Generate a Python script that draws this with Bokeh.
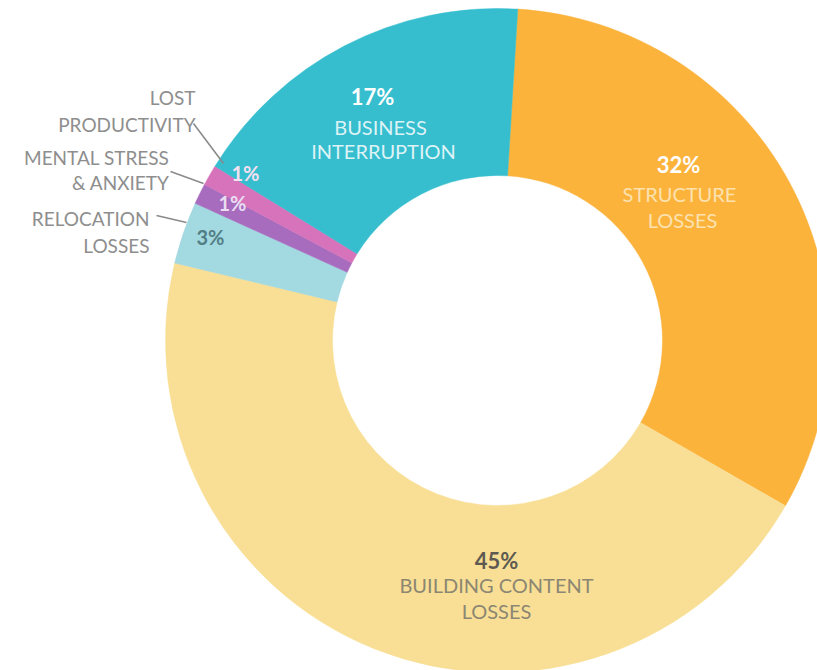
import numpy as np
from bokeh.plotting import figure
from bokeh.models import Range1d, ColumnDataSource
from bokeh.core.properties import value
from bokeh.embed import file_html
from bokeh.resources import INLINE

# ---- data ----
categories = ["Structure Losses", "Building Content Losses", "Relocation Losses",
              "Mental Stress & Anxiety", "Lost Productivity", "Business Interruption"]
shares = [32, 45, 3, 1, 1, 17]
pct_labels = ["32%", "45%", "3%", "1%", "1%", "17%"]
colors = ["#FBB33C", "#F8DF95", "#A3D9E0", "#A86CBF", "#D673BA", "#36BECF"]

# ---- layout ----
W, H = 817, 670
FONT = "Lato"
CX, CY = 497, 340          # screen px
R_IN, R_OUT = 165, 332
START_CW = 3.5             # degrees clockwise from 12 o'clock


def Y(sy):
    return H - sy


p = figure(width=W, height=H, output_backend="svg", toolbar_location=None,
           x_range=Range1d(0, W), y_range=Range1d(0, H),
           min_border=0)
p.axis.visible = False
p.grid.visible = False
p.outline_line_color = None
p.background_fill_color = "white"
p.border_fill_color = "white"

vals = np.array(shares, dtype=float)
frac = vals / vals.sum()
cw_end = START_CW + np.cumsum(frac) * 360.0
cw_start = cw_end - frac * 360.0
start_ang = np.deg2rad(90.0 - cw_start)
end_ang = np.deg2rad(90.0 - cw_end)

src = ColumnDataSource(dict(x=[CX] * len(shares), y=[Y(CY)] * len(shares),
                            start=start_ang, end=end_ang, color=colors, name=categories))
p.annular_wedge(x="x", y="y", inner_radius=R_IN, outer_radius=R_OUT,
                start_angle="start", end_angle="end", direction="clock",
                fill_color="color", line_color="color", line_width=0.5, source=src)


def txt(x, y, s, color, size, bold=False, align="center"):
    p.text(x=[x], y=[Y(y)], text=[s], text_color=color,
           text_font=value(FONT), text_font_size=f"{size}px",
           text_font_style="bold" if bold else "normal",
           text_align=align, text_baseline="middle")


GRAY = "#8E8E8E"
# slice labels
txt(372, 96, pct_labels[5], "#FFFFFF", 22, bold=True)
txt(380, 126, "BUSINESS", "#DDF3F6", 20)
txt(383, 150, "INTERRUPTION", "#DDF3F6", 20)

txt(678, 164, pct_labels[0], "#FFFFFF", 22, bold=True)
txt(679, 193, "STRUCTURE", "#FDE2B0", 20)
txt(682, 219, "LOSSES", "#FDE2B0", 20)

txt(496, 560, pct_labels[1], "#5E5A52", 22, bold=True)
txt(496, 584, "BUILDING CONTENT", "#8C8672", 20)
txt(496, 610, "LOSSES", "#8C8672", 20)

txt(210, 236, pct_labels[2], "#527F86", 20, bold=True)
txt(245, 172, pct_labels[4], "#F6E0F0", 20, bold=True)
txt(232, 202, pct_labels[3], "#EADDF2", 20, bold=True)

# outside labels
txt(195, 97, "LOST", GRAY, 19, align="right")
txt(195, 124, "PRODUCTIVITY", GRAY, 19, align="right")
txt(169, 157, "MENTAL STRESS", GRAY, 19, align="right")
txt(169, 182, "& ANXIETY", GRAY, 19, align="right")
txt(149, 218, "RELOCATION", GRAY, 19, align="right")
txt(149, 245, "LOSSES", GRAY, 19, align="right")

# leader lines
for (x0, y0, x1, y1) in [(193, 123, 223, 163), (170, 171, 203, 183), (156, 215, 186, 222)]:
    p.line([x0, x1], [Y(y0), Y(y1)], line_color="#8A8A8A", line_width=1.5)

open("out.html", "w").write(file_html(p, INLINE))
